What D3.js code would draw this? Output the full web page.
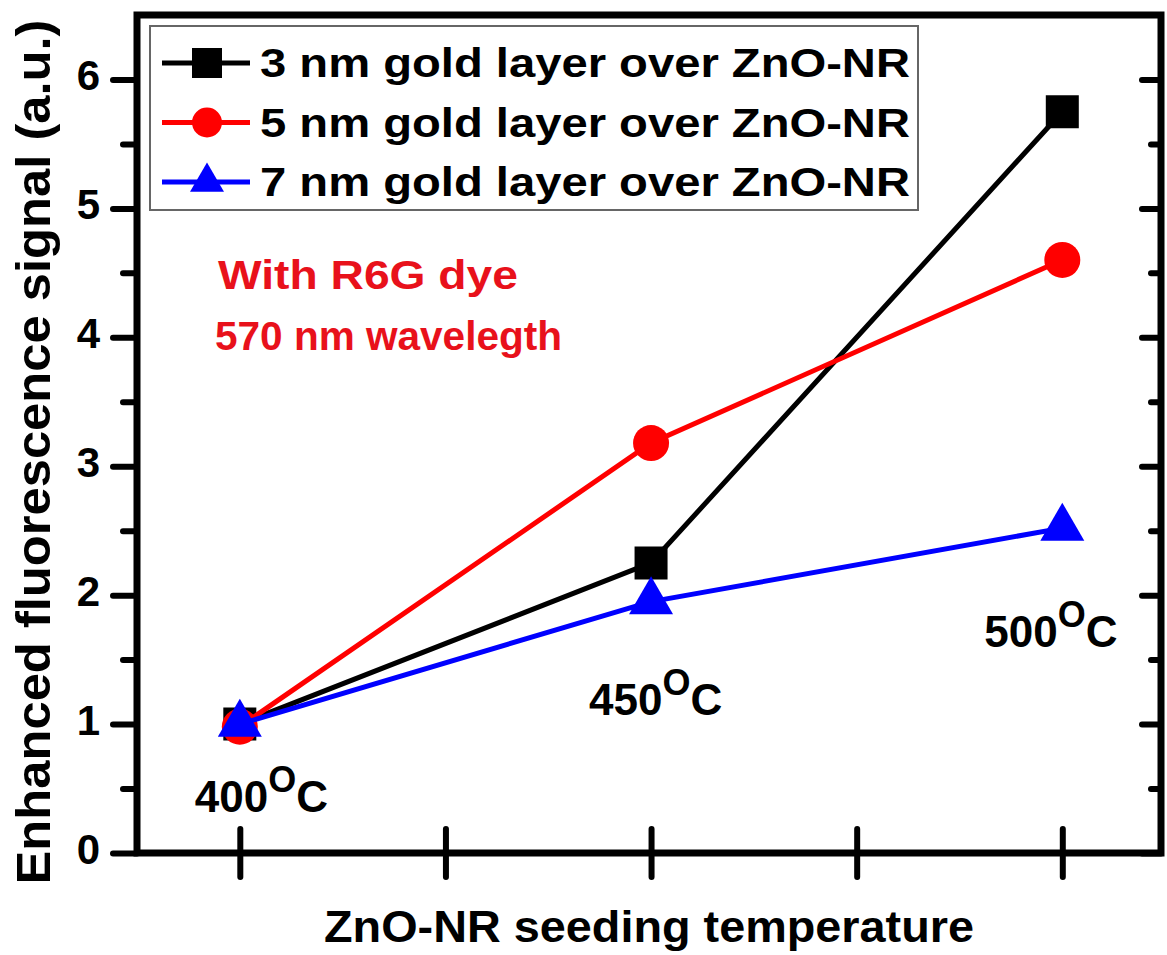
<!DOCTYPE html>
<html>
<head>
<meta charset="utf-8">
<script src="https://cdn.jsdelivr.net/npm/d3@7"></script>
<style>
  body { margin: 0; background: #fff; }
  text { font-family: "Liberation Sans", Arial, sans-serif; font-weight: bold; }
</style>
</head>
<body>
<div id="chart"></div>
<script>
// data
var temps = [400, 450, 500];
var gold3nm = [1.0, 2.25, 5.75];
var gold5nm = [0.98, 3.18, 4.6];
var gold7nm = [1.0, 1.95, 2.52];
var seriesNames = ["3 nm gold layer over ZnO-NR", "5 nm gold layer over ZnO-NR", "7 nm gold layer over ZnO-NR"];
var yTicks = [0, 1, 2, 3, 4, 5, 6];
var yMinor = [0.5, 1.5, 2.5, 3.5, 4.5, 5.5];
var xTicks = [400, 425, 450, 475, 500];
var tempLabels = ["400", "450", "500"];
var notes = ["With R6G dye", "570 nm wavelegth"];

var margin = {top: 15, right: 6, bottom: 102, left: 137},
    width = 1161 - margin.left,
    height = 853 - margin.top;

var svg = d3.select("#chart")
  .append("svg")
    .attr("width", 1167)
    .attr("height", 955)
  .append("g")
    .attr("transform", "translate(" + margin.left + "," + margin.top + ")");

var x = d3.scaleLinear().domain([387.5, 512]).range([0, width]);
var y = d3.scaleLinear().domain([0, 6.5]).range([height, 0]);

// left axis, major ticks with labels
var left = svg.append("g")
    .call(d3.axisLeft(y).tickValues(yTicks).tickSize(24).tickSizeOuter(0).tickPadding(13).tickFormat(d3.format("d")));
left.selectAll("text").style("font-size", "42px").attr("dy", "0.25em");
// left minor ticks
svg.append("g")
    .call(d3.axisLeft(y).tickValues(yMinor).tickSize(14).tickFormat(""));

// right axis, ticks pointing inward
svg.append("g")
    .attr("transform", "translate(" + width + ",0)")
    .call(d3.axisLeft(y).tickValues(yTicks).tickSize(19).tickFormat(""));
svg.append("g")
    .attr("transform", "translate(" + width + ",0)")
    .call(d3.axisLeft(y).tickValues(yMinor).tickSize(10).tickFormat(""));

// bottom axis, ticks cross the line
var bottom = svg.append("g")
    .attr("transform", "translate(0," + height + ")")
    .call(d3.axisBottom(x).tickValues(xTicks).tickSize(24).tickFormat(""));
bottom.selectAll(".tick line").attr("y1", -24).attr("y2", 24);

svg.selectAll(".domain").remove();
svg.selectAll(".tick line")
    .attr("stroke", "#000")
    .attr("stroke-width", 6)
    .attr("stroke-linecap", "round");

// frame
svg.append("rect")
    .attr("x", 0).attr("y", 0)
    .attr("width", width).attr("height", height)
    .attr("fill", "none")
    .attr("stroke", "#000")
    .attr("stroke-width", 7);

// axis titles
svg.append("text")
    .attr("transform", "rotate(-90)")
    .attr("x", -(452 - margin.top))
    .attr("y", 50 - margin.left)
    .attr("text-anchor", "middle")
    .attr("textLength", 865)
    .attr("lengthAdjust", "spacingAndGlyphs")
    .style("font-size", "49px")
    .text("Enhanced fluorescence signal (a.u.)");

svg.append("text")
    .attr("x", 649 - margin.left)
    .attr("y", 942 - margin.top)
    .attr("text-anchor", "middle")
    .attr("textLength", 650)
    .attr("lengthAdjust", "spacingAndGlyphs")
    .style("font-size", "45px")
    .text("ZnO-NR seeding temperature");

// series
var series = [
  {name: seriesNames[0], values: gold3nm, color: "#000000", symbol: d3.symbolSquare, size: 1089, legendSize: 900},
  {name: seriesNames[1], values: gold5nm, color: "#ff0000", symbol: d3.symbolCircle, size: 1018, legendSize: 707},
  {name: seriesNames[2], values: gold7nm, color: "#0000ff", symbol: d3.symbolTriangle, size: 838, legendSize: 500}
];

var line = d3.line()
    .x(function(d, i) { return x(temps[i]); })
    .y(function(d) { return y(d); });

series.forEach(function(s) {
  svg.append("path")
      .datum(s.values)
      .attr("d", line)
      .attr("fill", "none")
      .attr("stroke", s.color)
      .attr("stroke-width", 5);
  svg.selectAll(null)
      .data(s.values)
      .enter()
      .append("path")
        .attr("d", d3.symbol().type(s.symbol).size(s.size))
        .attr("transform", function(d, i) { return "translate(" + x(temps[i]) + "," + y(d) + ")"; })
        .attr("fill", s.color);
});

// temperature annotations: label offset from each point's x, baseline in data units
var tempPos = [{dx: -45, y: 0.316}, {dx: -62, y: 1.07}, {dx: -78, y: 1.594}];
tempLabels.forEach(function(t, i) {
  var lbl = svg.append("text")
      .attr("x", x(temps[i]) + tempPos[i].dx)
      .attr("y", y(tempPos[i].y))
      .style("font-size", "44px")
      .attr("fill", "#000");
  lbl.append("tspan").text(t);
  lbl.append("tspan").attr("dy", -20).style("font-size", "36px").text("O");
  lbl.append("tspan").attr("dy", 20).text("C");
});

// red notes
var notePos = [{x: 218, y: 289, w: 300}, {x: 215, y: 350, w: 347}];
notes.forEach(function(n, i) {
  svg.append("text")
      .attr("x", notePos[i].x - margin.left)
      .attr("y", notePos[i].y - margin.top)
      .attr("textLength", notePos[i].w)
      .attr("lengthAdjust", "spacingAndGlyphs")
      .attr("fill", "#e8111b")
      .style("font-size", "41px")
      .text(n);
});

// legend
var legend = svg.append("g")
    .attr("transform", "translate(" + (150 - margin.left) + "," + (26 - margin.top) + ")");
legend.append("rect")
    .attr("width", 768).attr("height", 184)
    .attr("fill", "#fff")
    .attr("stroke", "#666")
    .attr("stroke-width", 2);
var rows = legend.selectAll(".row")
    .data(series)
    .enter()
    .append("g")
      .attr("transform", function(d, i) { return "translate(0," + (37 + i * 59.5) + ")"; });
rows.append("line")
    .attr("x1", 12).attr("x2", 100)
    .attr("stroke", function(d) { return d.color; })
    .attr("stroke-width", 5);
rows.append("path")
    .attr("d", function(d) { return d3.symbol().type(d.symbol).size(d.legendSize)(); })
    .attr("transform", "translate(57,0)")
    .attr("fill", function(d) { return d.color; });
rows.append("text")
    .attr("x", 110)
    .attr("dy", "0.36em")
    .attr("textLength", 650)
    .attr("lengthAdjust", "spacingAndGlyphs")
    .style("font-size", "40px")
    .text(function(d) { return d.name; });
</script>
</body>
</html>
